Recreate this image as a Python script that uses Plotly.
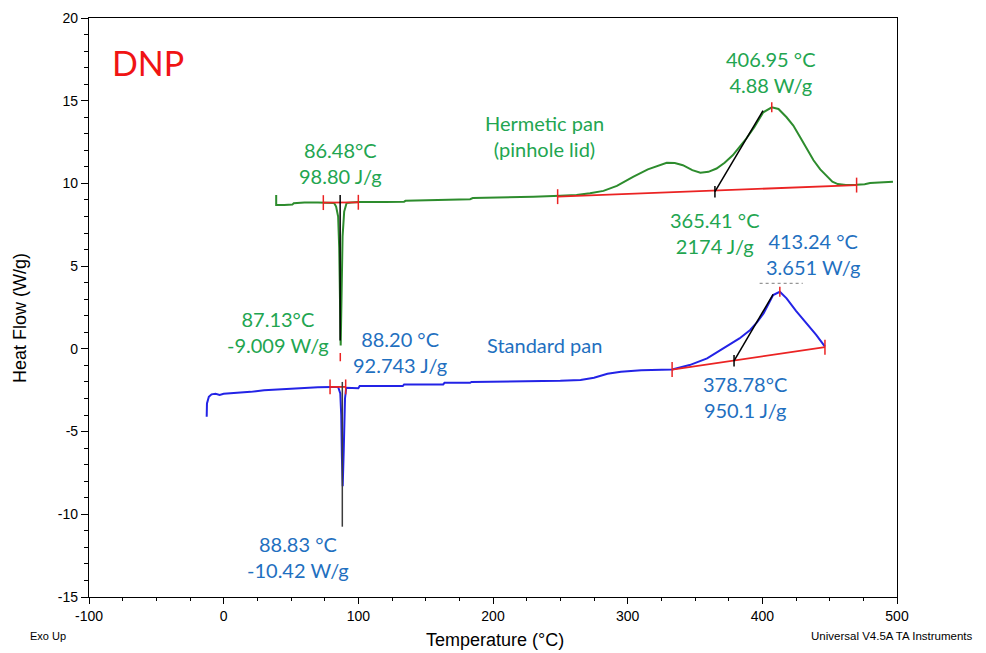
import plotly.graph_objects as go

# ---------------- data ----------------
# Hermetic pan (pinhole lid) - green trace
herm_x = [39, 39, 45, 51, 52, 60, 70, 78, 82, 83.5, 85, 85.8, 86.4, 86.9, 87.5, 88.3, 89.5, 91.3, 95, 100, 120, 134, 135,
          160, 183, 185, 210, 230, 250, 262, 272, 282, 292, 304, 315, 323, 329, 335, 341, 348, 354, 360, 366, 372, 378,
          384, 388, 394, 400.7, 407, 412, 418, 423, 428, 433, 438, 443, 448, 452, 456, 462, 470, 476, 480, 490, 497]
herm_y = [9.3, 8.7, 8.7, 8.72, 8.8, 8.85, 8.85, 8.85, 8.82, 8.6, 8.0, 6.1, 2.5, 0.2, 3.0, 6.8, 8.3, 8.82, 8.85, 8.87, 8.88, 8.9, 8.95,
          9.0, 9.05, 9.12, 9.15, 9.2, 9.25, 9.3, 9.4, 9.55, 9.85, 10.4, 10.85, 11.1, 11.25, 11.23, 11.1, 10.8, 10.65, 10.7,
          10.9, 11.25, 11.7, 12.3, 12.7, 13.4, 14.3, 14.6, 14.5, 14.0, 13.5, 12.8, 12.1, 11.4, 10.85, 10.4, 10.1, 9.96,
          9.9, 9.92, 9.95, 10.02, 10.05, 10.1]

# Standard pan - blue trace
std_x = [-12.6, -12.4, -11, -9, -6, -3, 0, 5, 12, 20, 30, 40, 57, 70, 80, 85, 86.6, 87.3, 87.8, 88.4, 89.2, 90.1, 91,
         100, 101, 133, 134, 163, 164, 183, 184, 230, 250, 265, 275, 285, 295, 310, 333, 346, 359, 371, 383, 391, 396,
         401, 405, 408, 413, 418, 425, 433, 440, 446.5]
std_y = [-4.1, -3.3, -2.9, -2.75, -2.72, -2.78, -2.72, -2.7, -2.65, -2.6, -2.5, -2.45, -2.35, -2.32, -2.3, -2.3, -2.7, -4.0,
         -6.5, -8.3, -6.0, -3.0, -2.35, -2.38, -2.25, -2.25, -2.15, -2.15, -2.05, -2.05, -2.0, -1.97, -1.93, -1.88, -1.75,
         -1.5, -1.38, -1.3, -1.25, -0.98, -0.58, 0.03, 0.63, 1.14, 1.6, 2.15, 2.75, 3.25, 3.45, 3.05, 2.3, 1.54, 0.85, 0.13]

# integration baselines (red)
herm_base1_x = [74, 100]
herm_base1_y = [8.84, 8.86]
herm_base2_x = [248, 470]
herm_base2_y = [9.2, 9.9]
std_base1_x = [79, 90.6]
std_base1_y = [-2.3, -2.3]
std_base2_x = [333, 446.5]
std_base2_y = [-1.25, 0.1]
# peak markers (red)
herm_peak_x, herm_peak_y = 407, 14.6
std_peak_x, std_peak_y = 413, 3.45
herm_min_x, herm_min_y = 86.6, -0.5

# onset tangent lines (black)
herm_onset_x = [364.8, 400.5]
herm_onset_y = [9.5, 14.4]
std_onset_x = [379, 408]
std_onset_y = [-0.72, 3.3]
herm_melt_x = [86.5, 86.5]
herm_melt_y = [9.3, 0.5]
std_melt_x = [88.1, 88.1]
std_melt_y = [-2.0, -10.75]

# axis ticks
x_ticks = [-100, 0, 100, 200, 300, 400, 500]
y_ticks = [-15, -10, -5, 0, 5, 10, 15, 20]

# annotation texts
labels_green = [
    (86.4, 11.23, "86.48°C<br>98.80 J/g"),
    (238.6, 12.86, "Hermetic pan<br>(pinhole lid)"),
    (406.4, 16.73, "406.95 °C<br>4.88 W/g"),
    (364.8, 7.0, "365.41 °C<br>2174 J/g"),
    (40.3, 1.02, "87.13°C<br>-9.009 W/g"),
]
labels_blue = [
    (130.9, -0.19, "88.20 °C<br>92.743 J/g"),
    (238.6, 0.23, "Standard pan"),
    (437.6, 5.73, "413.24 °C<br>3.651 W/g"),
    (387.1, -2.91, "378.78°C<br>950.1 J/g"),
    (55.2, -12.6, "88.83 °C<br>-10.42 W/g"),
]

GREEN = "rgb(45,140,45)"
BLUE = "rgb(35,35,230)"
RED = "rgb(235,35,35)"
GTXT = "rgb(34,165,80)"
BTXT = "rgb(31,112,192)"
TEXTFONT = "Lato, Open Sans, sans-serif"
AXFONT = "Liberation Sans Narrow, Liberation Sans, Arial, sans-serif"

fig = go.Figure()

def line(x, y, color, width=2, dash=None):
    fig.add_trace(go.Scatter(x=x, y=y, mode="lines", line=dict(color=color, width=width, dash=dash),
                             showlegend=False, hoverinfo="skip"))

def vtick(x, y, h, color, width=1.5):
    line([x, x], [y - h, y + h], color, width)

# curves
line(herm_x, herm_y, GREEN, 2)
line(std_x, std_y, BLUE, 2)

# baselines
line(herm_base1_x, herm_base1_y, RED, 1.8)
line(herm_base2_x, herm_base2_y, RED, 1.8)
line(std_base1_x, std_base1_y, RED, 1.8)
line(std_base2_x, std_base2_y, RED, 1.8)
for bx, by in zip(herm_base1_x + herm_base2_x + std_base1_x + std_base2_x,
                  herm_base1_y + herm_base2_y + std_base1_y + std_base2_y):
    vtick(bx, by, 0.45, RED)
vtick(herm_peak_x, herm_peak_y, 0.3, RED)
vtick(std_peak_x, std_peak_y, 0.3, RED)
vtick(herm_min_x, herm_min_y, 0.25, RED)

# black onset/peak lines
line(herm_onset_x, herm_onset_y, "black", 1.5)
line(std_onset_x, std_onset_y, "black", 1.5)
vtick(herm_onset_x[0], herm_onset_y[0], 0.35, "black")
vtick(std_onset_x[0], std_onset_y[0], 0.35, "black")
line(herm_melt_x, herm_melt_y, "black", 1.5)
line(std_melt_x, std_melt_y, "rgb(60,60,60)", 1.5)
line([398, 430], [3.96, 3.96], "rgb(150,150,150)", 1.2, "dot")

ann = []
ann.append(dict(x=-56.2, y=17.3, text="DNP", showarrow=False, xanchor="center", yanchor="middle",
                font=dict(family=TEXTFONT, size=34, color="rgb(240,20,20)")))
for x, y, t in labels_green:
    ann.append(dict(x=x, y=y, text=t, showarrow=False, xanchor="center", yanchor="middle",
                    font=dict(family=TEXTFONT, size=20, color=GTXT)))
for x, y, t in labels_blue:
    ann.append(dict(x=x, y=y, text=t, showarrow=False, xanchor="center", yanchor="middle",
                    font=dict(family=TEXTFONT, size=20, color=BTXT)))
ann.append(dict(xref="paper", yref="paper", x=-0.0755, y=-0.0674, text="Exo Up", showarrow=False,
                xanchor="left", yanchor="middle", font=dict(family=AXFONT, size=11, color="black")))
ann.append(dict(xref="paper", yref="paper", x=1.096, y=-0.0674, text="Universal V4.5A TA Instruments",
                showarrow=False, xanchor="right", yanchor="middle",
                font=dict(family=AXFONT, size=11.5, color="black")))
ann.append(dict(xref="paper", yref="paper", x=0.502, y=-0.0743, text="Temperature (°C)", showarrow=False,
                xanchor="center", yanchor="middle", font=dict(family=AXFONT, size=18, color="black")))
ann.append(dict(xref="paper", yref="paper", x=-0.0854, y=0.482, text="Heat Flow (W/g)", showarrow=False,
                textangle=-90, xanchor="center", yanchor="middle",
                font=dict(family=AXFONT, size=18, color="black")))

# page has an 8px body margin, so the figure is sized/offset to place the plot box as in the reference
fig.update_layout(
    width=978, height=645,
    margin=dict(l=81, r=89, t=10, b=56),
    paper_bgcolor="white", plot_bgcolor="white",
    annotations=ann,
    xaxis=dict(range=[-100, 500], tickvals=x_ticks, ticktext=[str(v) for v in x_ticks],
               showgrid=False, zeroline=False, automargin=False,
               showline=True, linecolor="black", linewidth=1.2, mirror=True,
               ticks="outside", ticklen=6, tickcolor="black",
               minor=dict(dtick=25, ticks="outside", ticklen=3, tickcolor="black"),
               tickfont=dict(family=AXFONT, size=14, color="black")),
    yaxis=dict(range=[-15, 20], tickvals=y_ticks, ticktext=[str(v) for v in y_ticks],
               showgrid=False, zeroline=False, automargin=False,
               showline=True, linecolor="black", linewidth=1.2, mirror=True,
               ticks="outside", ticklen=7, tickcolor="black",
               minor=dict(dtick=1, ticks="outside", ticklen=4, tickcolor="black"),
               tickfont=dict(family=AXFONT, size=14, color="black")),
)

fig.write_html("out.html")
